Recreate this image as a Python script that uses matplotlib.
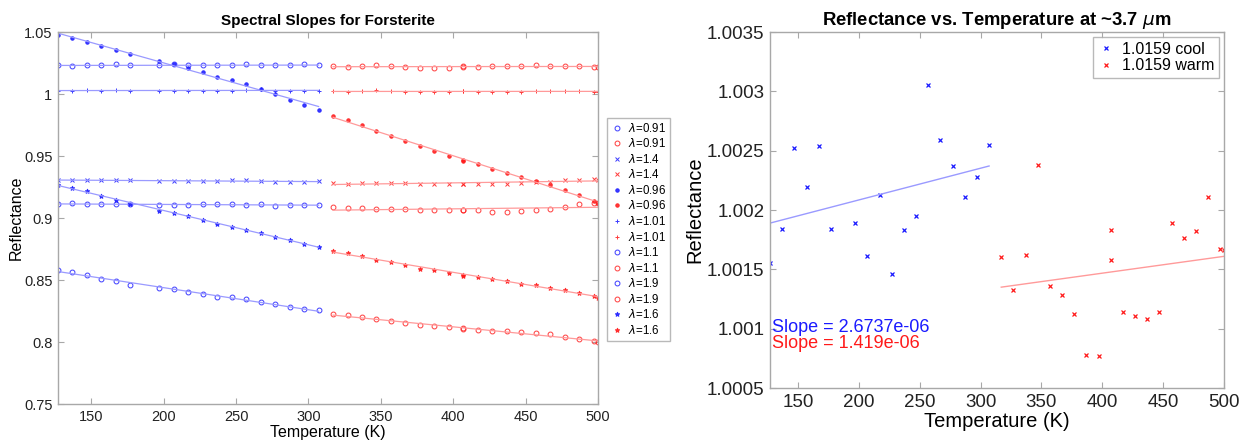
import numpy as np
import matplotlib
matplotlib.use("Agg")
import matplotlib.pyplot as plt
from matplotlib.ticker import FuncFormatter

plt.rcParams['font.family'] = ['Liberation Sans', 'DejaVu Sans']

# temperatures (K)
temp_cool = [127, 137, 147, 157, 167, 177, 197, 207, 217, 227, 237, 247, 257, 267, 277, 287, 297, 307]
temp_warm = [317, 327, 337, 347, 357, 367, 377, 387, 397, 407, 407, 417, 427, 437, 447, 457, 467, 477, 487, 497, 500]

# left panel: reflectance per wavelength, cool / warm runs
r091_cool = [1.0230, 1.0224, 1.0232, 1.0230, 1.0238, 1.0230, 1.0230, 1.0238, 1.0232, 1.0230, 1.0230, 1.0232, 1.0238, 1.0232, 1.0230, 1.0230, 1.0238, 1.0230]
r091_warm = [1.0224, 1.0219, 1.0224, 1.0230, 1.0224, 1.0216, 1.0211, 1.0211, 1.0206, 1.0219, 1.0227, 1.0219, 1.0224, 1.0222, 1.0227, 1.0235, 1.0224, 1.0224, 1.0227, 1.0216, 1.0216]
r14_cool = [0.9303, 0.9303, 0.9306, 0.9303, 0.9306, 0.9303, 0.9301, 0.9301, 0.9301, 0.9301, 0.9295, 0.9303, 0.9303, 0.9301, 0.9290, 0.9287, 0.9293, 0.9295]
r14_warm = [0.9285, 0.9274, 0.9279, 0.9285, 0.9279, 0.9279, 0.9274, 0.9277, 0.9277, 0.9272, 0.9277, 0.9277, 0.9277, 0.9277, 0.9282, 0.9293, 0.9293, 0.9304, 0.9304, 0.9314, 0.9309]
r096_cool = [1.0472, 1.0448, 1.0418, 1.0387, 1.0357, 1.0324, 1.0270, 1.0240, 1.0211, 1.0176, 1.0141, 1.0114, 1.0079, 1.0038, 0.9998, 0.9950, 0.9913, 0.9872]
r096_warm = [0.9820, 0.9791, 0.9749, 0.9702, 0.9662, 0.9617, 0.9580, 0.9544, 0.9499, 0.9466, 0.9456, 0.9432, 0.9396, 0.9364, 0.9329, 0.9298, 0.9263, 0.9228, 0.9185, 0.9140, 0.9124]
r101_cool = [1.0028, 1.0028, 1.0030, 1.0028, 1.0030, 1.0028, 1.0028, 1.0025, 1.0028, 1.0022, 1.0025, 1.0028, 1.0036, 1.0038, 1.0028, 1.0028, 1.0028, 1.0028]
r101_warm = [1.0022, 1.0020, 1.0022, 1.0030, 1.0022, 1.0017, 1.0020, 1.0014, 1.0014, 1.0022, 1.0025, 1.0020, 1.0020, 1.0014, 1.0020, 1.0025, 1.0022, 1.0022, 1.0028, 1.0020, 1.0020]
r11_cool = [0.9110, 0.9118, 0.9112, 0.9115, 0.9115, 0.9110, 0.9102, 0.9104, 0.9104, 0.9110, 0.9110, 0.9115, 0.9104, 0.9112, 0.9099, 0.9104, 0.9104, 0.9104]
r11_warm = [0.9085, 0.9083, 0.9080, 0.9075, 0.9069, 0.9069, 0.9067, 0.9064, 0.9067, 0.9064, 0.9066, 0.9064, 0.9051, 0.9048, 0.9054, 0.9064, 0.9075, 0.9085, 0.9112, 0.9117, 0.9123]
r19_cool = [0.8582, 0.8566, 0.8537, 0.8506, 0.8493, 0.8461, 0.8435, 0.8424, 0.8405, 0.8386, 0.8362, 0.8362, 0.8345, 0.8319, 0.8303, 0.8282, 0.8268, 0.8255]
r19_warm = [0.8224, 0.8216, 0.8201, 0.8182, 0.8169, 0.8150, 0.8137, 0.8129, 0.8121, 0.8110, 0.8104, 0.8098, 0.8090, 0.8088, 0.8077, 0.8072, 0.8061, 0.8037, 0.8026, 0.8008, 0.7996]
r16_cool = [0.9270, 0.9243, 0.9214, 0.9179, 0.9149, 0.9109, 0.9059, 0.9038, 0.9014, 0.8985, 0.8952, 0.8928, 0.8906, 0.8880, 0.8850, 0.8821, 0.8794, 0.8768]
r16_warm = [0.8735, 0.8716, 0.8694, 0.8664, 0.8646, 0.8622, 0.8592, 0.8582, 0.8558, 0.8544, 0.8534, 0.8528, 0.8506, 0.8490, 0.8471, 0.8461, 0.8439, 0.8423, 0.8399, 0.8367, 0.8357]

wavelengths = ['0.91', '1.4', '0.96', '1.01', '1.1', '1.9', '1.6']
markers = ['o', 'x', '.', '+', 'o', 'o', '*']
cool_sets = [r091_cool, r14_cool, r096_cool, r101_cool, r11_cool, r19_cool, r16_cool]
warm_sets = [r091_warm, r14_warm, r096_warm, r101_warm, r11_warm, r19_warm, r16_warm]

# right panel: ~3.7 um reflectance
r37_cool = [1.00155, 1.00184, 1.00252, 1.00219, 1.00254, 1.00184, 1.00189, 1.00161, 1.00213, 1.00146, 1.00183, 1.00195, 1.00305, 1.00259, 1.00237, 1.00211, 1.00228, 1.00255]
r37_warm = [1.00160, 1.00133, 1.00162, 1.00238, 1.00136, 1.00128, 1.00112, 1.00078, 1.00077, 1.00183, 1.00158, 1.00114, 1.00111, 1.00108, 1.00114, 1.00189, 1.00176, 1.00182, 1.00211, 1.00167, 1.00166]
slope_cool, icpt_cool = 2.6737e-06, 1.00155
slope_warm, icpt_warm = 1.419e-06, 1.00090

BLUE, RED = '#1a1aff', '#ff1a1a'
BLUE_L, RED_L = '#9a9aff', '#ff9a9a'
GRID = '#a8a8a8'


def style_axes(ax, size):
    for s in ax.spines.values():
        s.set_color(GRID)
        s.set_linewidth(1.0)
    ax.tick_params(direction='in', top=True, right=True, length=4, color=GRID,
                   labelsize=size, labelcolor='#222222', pad=4)
    ax.yaxis.set_major_formatter(FuncFormatter(lambda v, p: '{:g}'.format(round(v, 6))))


fig = plt.figure(figsize=(12.4, 4.44), dpi=100)

# ---- left panel
ax1 = fig.add_axes([58/1240, 1 - 404/444, 540/1240, 372/444])
handles = []
for wl, mk, rc, rw in zip(wavelengths, markers, cool_sets, warm_sets):
    ms = 5 if mk == '.' else 3.5
    for tt, rr, c, cl in [(temp_cool, rc, BLUE, BLUE_L), (temp_warm, rw, RED, RED_L)]:
        h, = ax1.plot(tt, rr, mk, color=c, ms=ms, mew=0.7, mfc='none' if mk == 'o' else c,
                      label=r'$\lambda$=' + wl, alpha=0.85)
        handles.append(h)
        k, b = np.polyfit(tt, rr, 1)
        ax1.plot([tt[0], tt[-1]], [k * tt[0] + b, k * tt[-1] + b], '-', color=cl, lw=0.9)

ax1.set_xlim(127, 500)
ax1.set_ylim(0.75, 1.05)
ax1.set_xticks([150, 200, 250, 300, 350, 400, 450, 500])
ax1.set_yticks([0.75, 0.8, 0.85, 0.9, 0.95, 1.0, 1.05])
style_axes(ax1, 10.5)
ax1.set_title('Spectral Slopes for Forsterite', fontsize=11, fontweight='bold', pad=5)
ax1.set_xlabel('Temperature (K)', fontsize=11.5, labelpad=1)
ax1.set_ylabel('Reflectance', fontsize=11.5, labelpad=0)

leg1 = fig.legend(handles=handles, loc='upper left', bbox_to_anchor=(601/1240, 1 - 112/444),
                  fontsize=8.3, handlelength=1.0, handletextpad=0.5, labelspacing=0.22,
                  borderpad=0.35, fancybox=False, frameon=True)
leg1.get_frame().set_edgecolor(GRID)
leg1.get_frame().set_linewidth(1.0)

# ---- right panel
ax2 = fig.add_axes([770/1240, 1 - 388/444, 454/1240, 356/444])
ax2.plot(temp_cool, r37_cool, 'x', color=BLUE, ms=3.2, mew=0.9, label='1.0159 cool')
ax2.plot(temp_warm, r37_warm, 'x', color=RED, ms=3.2, mew=0.9, label='1.0159 warm')
tc = np.array([temp_cool[0], temp_cool[-1]])
tw = np.array([temp_warm[0], temp_warm[-1]])
ax2.plot(tc, slope_cool * tc + icpt_cool, '-', color=BLUE_L, lw=1.0)
ax2.plot(tw, slope_warm * tw + icpt_warm, '-', color=RED_L, lw=1.0)
ax2.text(129, 1.00101, 'Slope = {}'.format('2.6737e-06'), color='#1a1aff', fontsize=13, va='center')
ax2.text(129, 1.000875, 'Slope = {}'.format('1.419e-06'), color='#ff1a1a', fontsize=13, va='center')

ax2.set_xlim(127, 500)
ax2.set_ylim(1.0005, 1.0035)
ax2.set_xticks([150, 200, 250, 300, 350, 400, 450, 500])
ax2.set_yticks([1.0005, 1.001, 1.0015, 1.002, 1.0025, 1.003, 1.0035])
style_axes(ax2, 13.5)
ax2.set_title(r'Reflectance vs. Temperature at ~3.7 $\mu$m', fontsize=13.3, fontweight='bold', pad=5)
ax2.set_xlabel('Temperature (K)', fontsize=14.5, labelpad=1)
ax2.set_ylabel('Reflectance', fontsize=14.5, labelpad=2)
leg2 = ax2.legend(loc='upper right', fontsize=11.5, handlelength=1.0, handletextpad=0.5,
                  labelspacing=0.1, borderpad=0.3, borderaxespad=0.3, fancybox=False)
leg2.get_frame().set_edgecolor(GRID)
leg2.get_frame().set_linewidth(1.0)

fig.savefig('out.png', dpi=100)
